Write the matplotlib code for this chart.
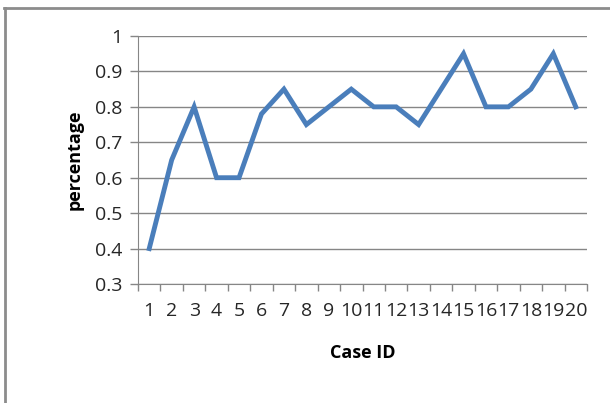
import matplotlib
matplotlib.use('Agg')
import matplotlib.pyplot as plt
from matplotlib.lines import Line2D

# datos
case_ids = list(range(1, 21))
percentage = [0.40, 0.65, 0.80, 0.60, 0.60, 0.78, 0.85, 0.75, 0.80, 0.85,
              0.80, 0.80, 0.75, 0.85, 0.95, 0.80, 0.80, 0.85, 0.95, 0.80]
y_ticks = [0.3, 0.4, 0.5, 0.6, 0.7, 0.8, 0.9, 1.0]
y_tick_labels = ['0.3', '0.4', '0.5', '0.6', '0.7', '0.8', '0.9', '1']

plt.rcParams['font.family'] = ['Open Sans', 'DejaVu Sans']

fig = plt.figure(figsize=(6.10, 4.03), dpi=100)
ax = fig.add_axes([138 / 610, 1 - 284 / 403, 449 / 610, 248 / 403])

grid_c = '#868686'

# linea principal
ax.plot(case_ids, percentage, color='#4A7EBB', linewidth=3.5,
        solid_joinstyle='miter', zorder=3)

ax.set_xlim(0.5, 20.5)
ax.set_ylim(0.3, 1.0)
ax.set_yticks(y_ticks)
ax.set_yticklabels(y_tick_labels)
ax.yaxis.grid(True, color=grid_c, linewidth=1.0)
ax.set_axisbelow(True)

# ticks del eje x entre categorias (estilo Excel)
ax.set_xticks([i + 0.5 for i in range(0, 21)])
ax.set_xticklabels([])
ax.set_xticks(case_ids, minor=True)
ax.set_xticklabels([str(c) for c in case_ids], minor=True)
ax.tick_params(axis='x', which='major', length=5, width=1, color=grid_c, direction='out')
ax.tick_params(axis='x', which='minor', length=0, pad=13, labelsize=14, labelcolor='#262626')
ax.tick_params(axis='y', length=6, width=1, color=grid_c, pad=5, labelsize=14, labelcolor='#262626')

for s in ['top', 'right']:
    ax.spines[s].set_visible(False)
ax.spines['left'].set_color(grid_c)
ax.spines['bottom'].set_color(grid_c)

ax.set_xlabel('Case ID', fontsize=13, fontweight='bold', labelpad=17)
ax.set_ylabel('percentage', fontsize=13, fontweight='bold', labelpad=8)

# borde del grafico
fig.add_artist(Line2D([4 / 610, 1.0], [1 - 8 / 403, 1 - 8 / 403],
                      transform=fig.transFigure, color='#8c8c8c', linewidth=2))
fig.add_artist(Line2D([4.5 / 610, 4.5 / 610], [0.0, 1 - 8 / 403],
                      transform=fig.transFigure, color='#8c8c8c', linewidth=2))

fig.savefig('out.png', dpi=100)
